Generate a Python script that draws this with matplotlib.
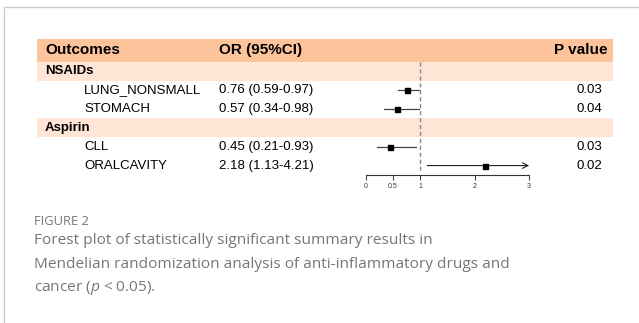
import matplotlib
matplotlib.use('Agg')
import matplotlib.pyplot as plt
from matplotlib.lines import Line2D
import matplotlib.transforms as mtransforms

# data
groups = ['NSAIDs', 'Aspirin']
outcomes = ['LUNG_NONSMALL', 'STOMACH', 'CLL', 'ORALCAVITY']
outcome_group = ['NSAIDs', 'NSAIDs', 'Aspirin', 'Aspirin']
or_vals = [0.76, 0.57, 0.45, 2.18]
ci_low = [0.59, 0.34, 0.21, 1.13]
ci_high = [0.97, 0.98, 0.93, 4.21]
p_vals = ['0.03', '0.04', '0.03', '0.02']
xticks = [0, 0.5, 1, 2, 3]
xmax = 3

plt.rcParams['font.family'] = ['Liberation Sans', 'DejaVu Sans']
plt.rcParams['mathtext.fontset'] = 'custom'
plt.rcParams['mathtext.it'] = 'Open Sans:italic'
plt.rcParams['mathtext.rm'] = 'Open Sans'

fig = plt.figure(figsize=(6.39, 3.23), dpi=100)
W, H = 639, 323

# axes covering the table, x in OR units so the forest part lines up
x0, x1, ytop, ybot = 37, 613, 39, 175
ax = fig.add_axes([x0 / W, 1 - ybot / H, (x1 - x0) / W, (ybot - ytop) / H])
ax.set_xlim(-6.04, 4.54)
ax.set_ylim(6.5, -0.72)

hdr_col = '#fdc49c'
grp_col = '#fee5d6'
ax.axhspan(-0.72, 0.5, color=hdr_col, lw=0, zorder=0)

tr = mtransforms.blended_transform_factory(ax.transAxes, ax.transData)

hy = -0.11
ax.text(0.0139, hy, 'Outcomes', transform=tr, fontsize=11, fontweight='bold', va='center')
ax.text(0.316, hy, 'OR (95%CI)', transform=tr, fontsize=11, fontweight='bold', va='center')
ax.text(0.991, hy, 'P value', transform=tr, fontsize=11, fontweight='bold', va='center', ha='right')

row = 1
for g in groups:
    ax.axhspan(row - 0.5, row + 0.5, color=grp_col, lw=0, zorder=0)
    ax.text(0.0139, row, g, transform=tr, fontsize=9.5, fontweight='bold', va='center')
    row += 1
    for i, o in enumerate(outcomes):
        if outcome_group[i] != g:
            continue
        ax.text(0.0816, row, o, transform=tr, fontsize=9.5, va='center')
        ax.text(0.316, row, '%.2f (%.2f-%.2f)' % (or_vals[i], ci_low[i], ci_high[i]),
                transform=tr, fontsize=9.5, va='center')
        ax.text(0.981, row, p_vals[i], transform=tr, fontsize=9.5, va='center', ha='right')
        if ci_high[i] > xmax:
            ax.annotate('', xy=(xmax, row), xytext=(ci_low[i], row),
                        arrowprops=dict(arrowstyle='->', lw=0.8, color='#222222',
                                        shrinkA=0, shrinkB=0))
        else:
            ax.plot([ci_low[i], ci_high[i]], [row, row], color='#444444', lw=0.9)
        ax.plot(or_vals[i], row, 's', color='black', ms=3.6, zorder=3)
        row += 1

ax.vlines(1, 0.5, 6.42, colors='#888888', linestyles=(0, (3, 2)), lw=1, zorder=2)

for s in ['top', 'left', 'right']:
    ax.spines[s].set_visible(False)
ax.spines['bottom'].set_bounds(0, xmax)
ax.spines['bottom'].set_linewidth(0.8)
ax.spines['bottom'].set_color('#333333')
ax.set_yticks([])
ax.set_xticks(xticks)
ax.set_xticklabels(['0', '0.5', '1', '2', '3'])
ax.tick_params(axis='x', length=3.5, width=0.7, labelsize=5, pad=2, colors='#333333')

# frame lines (top and left visible)
fig.add_artist(Line2D([4 / W, 4 / W], [1 - 7 / H, 0], transform=fig.transFigure,
                      color='#cccccc', lw=1))
fig.add_artist(Line2D([4 / W, 1], [1 - 7 / H, 1 - 7 / H], transform=fig.transFigure,
                      color='#cccccc', lw=1))

cap_col = '#767676'
fig.text(34 / W, 1 - 221.7 / H, 'FIGURE 2', fontsize=9.3, color=cap_col,
         family='Open Sans', va='center')
cap_lines = ['Forest plot of statistically significant summary results in',
             'Mendelian randomization analysis of anti-inflammatory drugs and',
             'cancer ($\\mathit{p}$ < 0.05).']
for k, line in enumerate(cap_lines):
    fig.text(34 / W, 1 - (240 + 24 * k) / H, line, fontsize=11.1, color=cap_col,
             family='Open Sans', va='center')

fig.savefig('out.png', dpi=100)
